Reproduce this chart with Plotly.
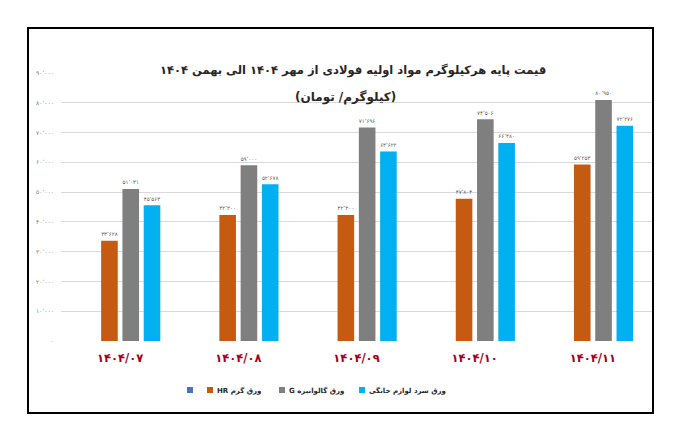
import plotly.graph_objects as go

# ---------------- data ----------------
categories = ["۱۴۰۴/۰۷", "۱۴۰۴/۰۸", "۱۴۰۴/۰۹", "۱۴۰۴/۱۰", "۱۴۰۴/۱۱"]
series_names = ["", "ورق گرم HR", "ورق گالوانیزه G", "ورق سرد لوازم خانگی"]
empty_series = [0, 0, 0, 0, 0]
hot_rolled = [33628, 42300, 42300, 47804, 59253]
galvanized = [51031, 59000, 71696, 74506, 80950]
cold_rolled = [45563, 52678, 63622, 66480, 72276]
y_tick_values = [0, 10000, 20000, 30000, 40000, 50000, 60000, 70000, 80000, 90000]
title_line1 = "قیمت پایه هرکیلوگرم مواد اولیه فولادی از مهر ۱۴۰۴ الی بهمن ۱۴۰۴"
title_line2 = "(کیلوگرم/ تومان)"

colors = ["#4472C4", "#C55A11", "#7F7F7F", "#00B0F0"]

PERSIAN = str.maketrans("0123456789", "۰۱۲۳۴۵۶۷۸۹")


def fa(v):
    return f"{v:,}".replace(",", "٬").translate(PERSIAN)


def rtl(s):
    return "\u202B" + s + "\u202C"


FONT = "DejaVu Sans"

# page has an 8px body margin -> shift the whole figure
OFF = 8
W, H = 674, 439
L, R, T, B = 61, 652, 73, 341          # plot area in reference pixels
PW, PH = R - L, B - T
FW, FH = W - OFF, H - OFF


def px(x):
    return (x - L) / PW


def py(y):
    return (B - y) / PH


fig = go.Figure()
all_series = [empty_series, hot_rolled, galvanized, cold_rolled]
for i, (name, vals) in enumerate(zip(series_names, all_series)):
    fig.add_trace(go.Bar(
        x=categories, y=vals, name=name,
        marker=dict(color=colors[i], line=dict(width=0)),
        text=[fa(v) if v else "" for v in vals],
        textposition="outside",
        textfont=dict(size=7, color="#595959", family=FONT),
        cliponaxis=False,
        showlegend=False,
        hoverinfo="skip" if i == 0 else None,
    ))

shapes = [
    dict(type="rect", xref="paper", yref="paper",
         x0=px(28), x1=px(653), y0=py(413), y1=py(28),
         line=dict(color="black", width=2), fillcolor="rgba(0,0,0,0)", layer="above"),
]
annotations = [
    dict(text=f"<b>{rtl(title_line1)}</b>", x=px(353), y=py(70), xref="paper", yref="paper",
         showarrow=False, font=dict(size=11.5, color="#262626", family=FONT),
         xanchor="center", yanchor="middle"),
    dict(text=f"<b>{rtl(title_line2)}</b>", x=px(345), y=py(97), xref="paper", yref="paper",
         showarrow=False, font=dict(size=12, color="#262626", family=FONT),
         xanchor="center", yanchor="middle"),
]

legend_sq_x = [190, 210, 282, 362]
for i, name in enumerate(series_names):
    shapes.append(dict(type="rect", xref="paper", yref="paper",
                       xsizemode="pixel", ysizemode="pixel",
                       xanchor=px(legend_sq_x[i]), yanchor=py(390),
                       x0=-3, x1=3, y0=-3, y1=3,
                       fillcolor=colors[i], line=dict(width=0)))
    if name:
        annotations.append(dict(text=f"<b>{rtl(name)}</b>", x=px(legend_sq_x[i] + 5), y=py(390),
                                xref="paper", yref="paper", showarrow=False,
                                xanchor="left", yanchor="middle",
                                font=dict(size=7, color="#262626", family=FONT)))

fig.update_layout(
    width=FW, height=FH,
    margin=dict(l=L - OFF, r=FW - (R - OFF), t=T - OFF, b=FH - (B - OFF), pad=0),
    paper_bgcolor="white", plot_bgcolor="white",
    barmode="group", bargap=0.28, bargroupgap=0.22,
    font=dict(family=FONT),
    shapes=shapes, annotations=annotations,
    showlegend=False,
    xaxis=dict(
        showgrid=False, showline=False, ticks="",
        tickfont=dict(size=11.5, color="#A50021", family=FONT),
        ticklabelstandoff=8,
        tickprefix="<b>", ticksuffix="</b>",
    ),
    yaxis=dict(
        range=[0, 90000],
        tickvals=y_tick_values,
        ticktext=[fa(v) for v in y_tick_values],
        tickfont=dict(size=6, color="#7F7F7F", family=FONT),
        showgrid=True, gridcolor="#D9D9D9", gridwidth=1,
        zeroline=False, showline=False, ticks="",
        ticklabelstandoff=6,
    ),
)

fig.write_html("out.html")
